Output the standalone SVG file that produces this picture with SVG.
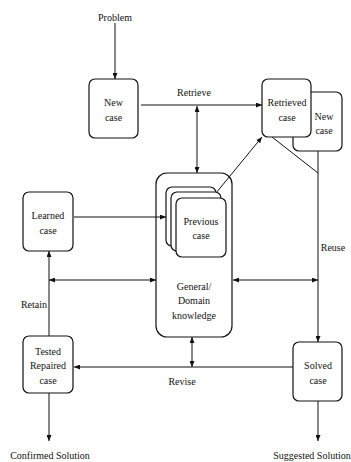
<svg xmlns="http://www.w3.org/2000/svg" width="351" height="462" viewBox="0 0 351 462" font-family="'Liberation Serif', 'Times New Roman', serif">
<style>
.box{fill:#fff;stroke:#111;stroke-width:1.2}
.outer{fill:none;stroke:#111;stroke-width:1.2}
.ln{fill:none;stroke:#111;stroke-width:1}
text{font-family:'Liberation Serif','Times New Roman',serif;font-size:10px;fill:#111;text-anchor:middle}
</style>
<defs>
<marker id="ah" markerUnits="userSpaceOnUse" markerWidth="6" markerHeight="5" refX="6" refY="2.5" orient="auto-start-reverse">
<path d="M0,0 L6,2.5 L0,5 z" fill="#111"/>
</marker>
</defs>
<rect width="351" height="462" fill="#fff"/>
<g id="connectors">
<line class="ln" x1="115" y1="23" x2="115" y2="79" marker-end="url(#ah)"/>
<line class="ln" x1="141" y1="105" x2="262" y2="105" marker-end="url(#ah)"/>
<line class="ln" x1="197" y1="106" x2="197" y2="173" marker-start="url(#ah)" marker-end="url(#ah)"/>
<line class="ln" x1="216" y1="193" x2="262" y2="137" marker-end="url(#ah)"/>
<line class="ln" x1="272" y1="137" x2="318" y2="173"/>
<line class="ln" x1="318" y1="151" x2="318" y2="342" marker-end="url(#ah)"/>
<line class="ln" x1="233" y1="280" x2="318" y2="280" marker-start="url(#ah)" marker-end="url(#ah)"/>
<line class="ln" x1="49" y1="280" x2="156" y2="280" marker-start="url(#ah)" marker-end="url(#ah)"/>
<line class="ln" x1="74" y1="217" x2="166" y2="217" marker-end="url(#ah)"/>
<line class="ln" x1="49" y1="336" x2="49" y2="251" marker-end="url(#ah)"/>
<line class="ln" x1="293" y1="367" x2="74" y2="367" marker-end="url(#ah)"/>
<line class="ln" x1="192" y1="337" x2="192" y2="367" marker-start="url(#ah)" marker-end="url(#ah)"/>
<line class="ln" x1="49" y1="393" x2="49" y2="441" marker-end="url(#ah)"/>
<line class="ln" x1="318" y1="401" x2="318" y2="441" marker-end="url(#ah)"/>
</g>
<g id="labels">
<text x="115" y="21">Problem</text>
<text x="194" y="96">Retrieve</text>
<text x="333" y="251">Reuse</text>
<text x="182" y="385">Revise</text>
<text x="34" y="308">Retain</text>
<text x="50" y="459">Confirmed Solution</text>
<text x="312" y="459">Suggested Solution</text>
</g>
<g id="new-case">
<rect class="box" x="89" y="79" width="49" height="59" rx="6"/>
<text x="113.5" y="106">New</text>
<text x="113.5" y="121">case</text>
</g>
<g id="new-case-back">
<rect class="box" x="293" y="92" width="49" height="59" rx="6"/>
<text x="324" y="120">New</text>
<text x="324" y="134">case</text>
</g>
<g id="retrieved-case">
<rect class="box" x="262" y="79" width="49" height="58" rx="6"/>
<text x="287" y="106">Retrieved</text>
<text x="287" y="121">case</text>
</g>
<g id="general-knowledge">
<rect class="outer" x="156" y="173" width="76" height="164" rx="11"/>
<text x="194" y="290">General/</text>
<text x="194" y="304">Domain</text>
<text x="194" y="319">knowledge</text>
</g>
<g id="previous-case">
<rect class="box" x="166" y="187" width="50" height="59" rx="6"/>
<rect class="box" x="171" y="192" width="50" height="59" rx="6"/>
<rect class="box" x="176" y="198" width="50" height="59" rx="6"/>
<text x="201" y="225">Previous</text>
<text x="201" y="239">case</text>
</g>
<g id="learned-case">
<rect class="box" x="23" y="192" width="50" height="59" rx="6"/>
<text x="48" y="219">Learned</text>
<text x="48" y="234">case</text>
</g>
<g id="tested-repaired-case">
<rect class="box" x="23" y="336" width="50" height="57" rx="6"/>
<text x="48" y="355">Tested</text>
<text x="48" y="369">Repaired</text>
<text x="48" y="384">case</text>
</g>
<g id="solved-case">
<rect class="box" x="293" y="342" width="49" height="59" rx="6"/>
<text x="318" y="369">Solved</text>
<text x="318" y="384">case</text>
</g>
</svg>
